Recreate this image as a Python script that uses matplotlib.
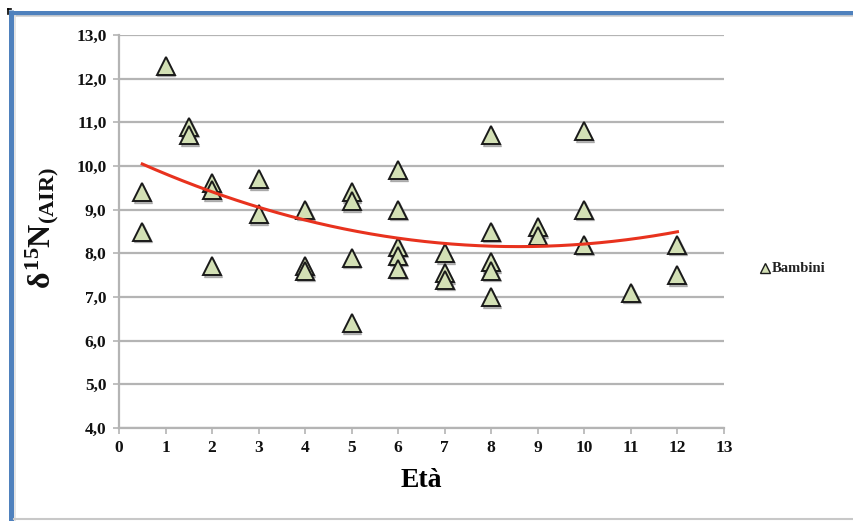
import numpy as np
import matplotlib
matplotlib.use("Agg")
import matplotlib.pyplot as plt
import matplotlib.transforms as mtransforms
from matplotlib.lines import Line2D

# ---- data ----
eta = [0.5, 0.5, 1, 1.5, 1.5, 2, 2, 2, 3, 3, 4, 4, 4, 5, 5, 5, 5,
       6, 6, 6, 6, 6, 7, 7, 7, 8, 8, 8, 8, 8, 9, 9, 10, 10, 10, 11, 12, 12]
d15n = [9.4, 8.5, 12.3, 10.9, 10.7, 9.6, 9.45, 7.7, 9.7, 8.9, 9.0, 7.7, 7.6,
        9.4, 9.2, 7.9, 6.4, 9.9, 9.0, 8.15, 7.95, 7.65, 8.0, 7.55, 7.4,
        10.7, 8.5, 7.8, 7.6, 7.0, 8.6, 8.4, 10.8, 9.0, 8.2, 7.1, 8.2, 7.5]
xticks = list(range(0, 14))
yticks = [4, 5, 6, 7, 8, 9, 10, 11, 12, 13]
ytick_labels = ["4,0", "5,0", "6,0", "7,0", "8,0", "9,0", "10,0", "11,0", "12,0", "13,0"]
series_name = "Bambini"

plt.rcParams['mathtext.fontset'] = 'custom'
plt.rcParams['mathtext.rm'] = 'Liberation Serif:bold'
plt.rcParams['mathtext.it'] = 'Liberation Serif:bold'
plt.rcParams['mathtext.bf'] = 'Liberation Serif:bold'

serif = 'Liberation Serif'

fig = plt.figure(figsize=(8.54, 5.21), dpi=100)
fig.patch.set_facecolor('white')

# frame decoration (blue border top/left, gray bottom)
fig.add_artist(Line2D([11.5/854, 11.5/854], [0, 1 - 10/521], transform=fig.transFigure,
                      color='#4f81bd', lw=3.6, solid_capstyle='butt'))
fig.add_artist(Line2D([9/854, 1], [1 - 12.5/521, 1 - 12.5/521], transform=fig.transFigure,
                      color='#4f81bd', lw=3.6, solid_capstyle='butt'))
fig.add_artist(Line2D([15/854, 1], [1 - 16/521, 1 - 16/521], transform=fig.transFigure,
                      color='#d0d0d0', lw=1.2))
fig.add_artist(Line2D([15.5/854, 15.5/854], [0, 1 - 16/521], transform=fig.transFigure,
                      color='#e0e0e0', lw=1.2))
fig.add_artist(Line2D([14/854, 1], [2/521, 2/521], transform=fig.transFigure,
                      color='#c8c8c8', lw=1.5))
fig.add_artist(Line2D([8/854, 8/854], [1 - 9/521, 1 - 14/521], transform=fig.transFigure,
                      color='black', lw=1.2))
fig.add_artist(Line2D([8/854, 11/854], [1 - 9/521, 1 - 9/521], transform=fig.transFigure,
                      color='black', lw=1.2))

ax = fig.add_axes([119/854, 1 - 428/521, (724 - 119)/854, (428 - 35)/521])
ax.set_xlim(0, 13)
ax.set_ylim(4, 13)
ax.set_xticks(xticks)
ax.set_yticks(yticks)
ax.set_xticklabels([str(t) for t in xticks], fontfamily=serif, fontweight='bold', fontsize=12.5)
ax.set_yticklabels(ytick_labels, fontfamily=serif, fontweight='bold', fontsize=12.5)
ax.yaxis.grid(True, color='#b4b4b4', lw=1.6)
ax.set_axisbelow(True)
for s in ['top', 'right']:
    ax.spines[s].set_visible(False)
for s in ['left', 'bottom']:
    ax.spines[s].set_color('#b4b4b4')
    ax.spines[s].set_linewidth(1.6)
ax.tick_params(axis='both', colors='#b4b4b4', length=4, width=1.2, labelcolor='#111111')
ax.tick_params(axis='x', pad=5)
ax.tick_params(axis='y', pad=5)

# shadow
shadow = mtransforms.offset_copy(ax.transData, fig=fig, x=0.8, y=-1.6, units='dots')
ax.plot(eta, d15n, linestyle='none', marker='^', markersize=12.5,
        markerfacecolor='#8a8a8a', markeredgecolor='#8a8a8a', alpha=0.6,
        transform=shadow, zorder=3)
ax.plot(eta, d15n, linestyle='none', marker='^', markersize=12.5,
        markerfacecolor='#d3e0b5', markeredgecolor='#1a1a1a', markeredgewidth=1.4, zorder=4)

# polynomial (order 2) trend line
coef = np.polyfit(eta, d15n, 2)
xs = np.linspace(min(eta), max(eta), 200)
ax.plot(xs, np.polyval(coef, xs), color='#e8321e', lw=2.2, zorder=5)

ax.set_xlabel('Età', fontfamily=serif, fontweight='bold', fontsize=20, labelpad=8)
fig.text(42/854, 1 - 228/521, r'$\delta^{15}\mathrm{N}_{(\mathrm{AIR})}$', rotation=90,
         fontsize=23, ha='center', va='center', color='#111111')

# legend
fig.add_artist(Line2D([765/854], [1 - 268/521], transform=fig.transFigure, marker='^',
                      markersize=6.5, markerfacecolor='#d3e0b5', markeredgecolor='#1a1a1a',
                      markeredgewidth=1.0, linestyle='none'))
fig.text(772/854, 1 - 268/521, series_name, fontfamily=serif, fontweight='bold',
         fontsize=10.5, va='center', ha='left', color='#222222')

fig.savefig('out.png', dpi=100, facecolor='white')
